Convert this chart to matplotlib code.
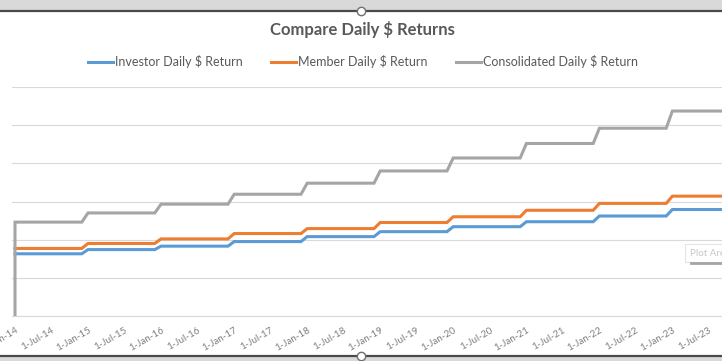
import matplotlib
matplotlib.use("Agg")
import matplotlib.pyplot as plt
from datetime import datetime, timedelta
from matplotlib.lines import Line2D
from matplotlib.patches import Rectangle

plt.rcParams['font.family'] = ['Lato', 'DejaVu Sans']

# ---- data (one value per calendar year) ----
years = [2014, 2015, 2016, 2017, 2018, 2019, 2020, 2021, 2022, 2023]
investor = [1.63, 1.74, 1.83, 1.95, 2.08, 2.21, 2.34, 2.47, 2.62, 2.79]
member = [1.77, 1.90, 2.02, 2.16, 2.29, 2.45, 2.60, 2.77, 2.95, 3.14]
consolidated = [2.46, 2.70, 2.93, 3.19, 3.48, 3.80, 4.14, 4.52, 4.92, 5.37]
consolidated_start = 0.0

series_names = ["Investor Daily $ Return", "Member Daily $ Return",
                "Consolidated Daily $ Return"]
series_colors = ["#5B9BD5", "#ED7D31", "#A5A5A5"]

tick_labels = ["1-Jan-14", "1-Jul-14", "1-Jan-15", "1-Jul-15", "1-Jan-16",
               "1-Jul-16", "1-Jan-17", "1-Jul-17", "1-Jan-18", "1-Jul-18",
               "1-Jan-19", "1-Jul-19", "1-Jan-20", "1-Jul-20", "1-Jan-21",
               "1-Jul-21", "1-Jan-22", "1-Jul-22", "1-Jan-23", "1-Jul-23"]
y_gridlines = [0, 1, 2, 3, 4, 5, 6]

title = "Compare Daily $ Returns"


def step_points(vals):
    xs, ys = [], []
    for yr, v in zip(years, vals):
        xs += [datetime(yr, 1, 1), datetime(yr, 12, 1)]
        ys += [v, v]
    return xs, ys


W, H = 722, 361
fig = plt.figure(figsize=(W / 100, H / 100), dpi=100)
fig.patch.set_facecolor("white")

x0 = datetime(2014, 1, 1) - timedelta(days=15)
x1 = datetime(2024, 1, 1) + timedelta(days=15)
px_per_day = 0.2
width_px = (x1 - x0).days * px_per_day
left_px, bottom_px, top_px = 12, 316, 87
ax = fig.add_axes([left_px / W, (H - bottom_px) / H, width_px / W,
                   (bottom_px - top_px) / H])

handles = []
for name, vals, col in zip(series_names, [investor, member, consolidated],
                           series_colors):
    xs, ys = step_points(vals)
    if name.startswith("Consolidated"):
        xs = [datetime(2014, 1, 1)] + xs
        ys = [consolidated_start] + ys
    ln, = ax.plot(xs, ys, color=col, lw=2.2, solid_joinstyle="miter",
                  label=name, zorder=3)
    handles.append(ln)

ax.set_xlim(x0, x1)
ax.set_ylim(y_gridlines[0], y_gridlines[-1])
ax.set_yticks(y_gridlines)
ax.yaxis.grid(True, color="#D9D9D9", lw=0.8)
ax.set_axisbelow(True)
ax.tick_params(axis="y", left=False, labelleft=False)
for s in ["top", "right", "left"]:
    ax.spines[s].set_visible(False)
ax.spines["bottom"].set_color("#D9D9D9")
ax.spines["bottom"].set_linewidth(0.8)

tick_dates = [datetime.strptime(t, "%d-%b-%y") for t in tick_labels]
ax.set_xticks(tick_dates)
ax.set_xticklabels(tick_labels, rotation=30, ha="right", va="top",
                   rotation_mode="anchor", fontsize=7, color="#7F7F7F")
ax.tick_params(axis="x", length=0, pad=7)

fig.text(362 / W, 1 - 30 / H, title, ha="center", va="center",
         fontsize=12, fontweight="bold", color="#595959")
fig.legend(handles=handles, labels=series_names, loc="center",
           bbox_to_anchor=(363 / W, 1 - 62 / H), ncol=3, frameon=False,
           fontsize=9, handlelength=2.0, handletextpad=0.15,
           columnspacing=2.3, labelcolor="#595959")

# ---- selection frame / window chrome ----
fig.add_artist(Rectangle((0, 1 - 10 / H), 1, 10 / H, transform=fig.transFigure,
                         facecolor="#D9D9D9", edgecolor="none", zorder=5))
fig.add_artist(Rectangle((0, 0), 1, 5 / H, transform=fig.transFigure,
                         facecolor="#D9D9D9", edgecolor="none", zorder=5))
for yy in [1 - 11 / H, 5.5 / H]:
    fig.add_artist(Line2D([0, 1], [yy, yy], transform=fig.transFigure,
                          color="#4A4A4A", lw=1.6, zorder=6))
    fig.add_artist(Line2D([0.5], [yy], transform=fig.transFigure, marker="o",
                          markersize=6, markerfacecolor="white",
                          markeredgecolor="#6F6F6F", markeredgewidth=1.0,
                          zorder=7))

# ---- "Plot Area" tooltip ----
fig.add_artist(Rectangle((685 / W, 1 - 262 / H), 40 / W, 18 / H,
                         transform=fig.transFigure, facecolor="white",
                         edgecolor="#E3E3E3", lw=0.8, zorder=8))
fig.text(690 / W, 1 - 253 / H, "Plot Area", ha="left", va="center",
         fontsize=7, color="#C8C8C8", zorder=9)
fig.add_artist(Line2D([691 / W, 1], [1 - 262.5 / H] * 2,
                      transform=fig.transFigure, color="#A5A5A5", lw=2.0,
                      zorder=9))

fig.savefig("out.png", dpi=100)
